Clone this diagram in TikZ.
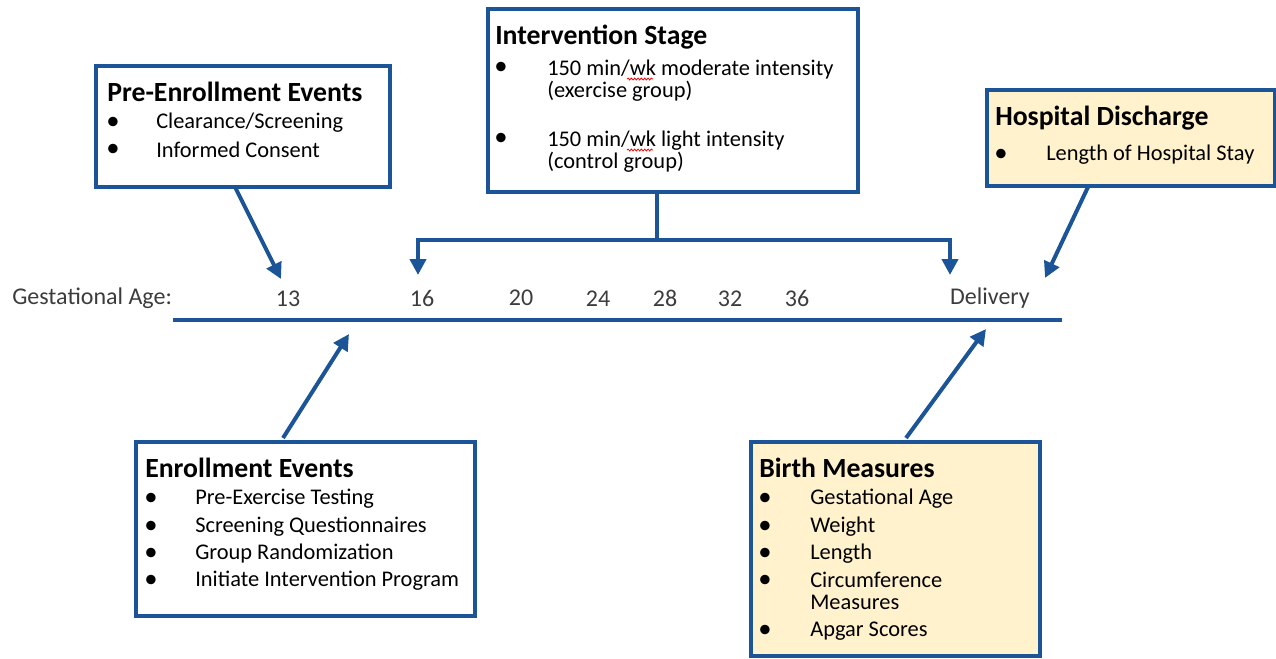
\documentclass[tikz,border=0pt]{standalone}
\usepackage{fontspec}
\setmainfont{Carlito}
\usetikzlibrary{arrows.meta,decorations.pathmorphing}
\definecolor{bblue}{RGB}{28,84,152}
\definecolor{byel}{RGB}{255,242,204}
\definecolor{tgrey}{RGB}{60,60,60}
\begin{document}
\begin{tikzpicture}[x=0.75pt,y=-0.75pt,
 box/.style={draw=bblue, line width=3pt, inner sep=0pt, anchor=north west},
 ybox/.style={box, fill=byel},
 ttl/.style={anchor=west, inner sep=0pt, font=\bfseries\fontsize{20.8}{24}\selectfont},
 itm/.style={anchor=west, inner sep=0pt, align=left, font=\fontsize{16.8}{16.5}\selectfont},
 bul/.style={anchor=center, inner sep=0pt, font=\fontsize{20}{20}\selectfont},
 tl/.style={inner sep=0pt, text=tgrey, font=\fontsize{18}{18}\selectfont},
 arr/.style={draw=bblue, line width=3pt, -{Triangle[length=12pt,width=12pt]}},
 con/.style={draw=bblue, line width=3pt},
 squig/.style={draw=red, line width=0.6pt, decorate, decoration={snake, amplitude=0.7pt, segment length=2.5pt}}
]
\useasboundingbox (0,0) rectangle (1276,658);

% boxes
\node[box, minimum width=220.5pt, minimum height=90.75pt] (pre) at (94,64) {};
\node[box, minimum width=277.5pt, minimum height=137.25pt] (inter) at (486,7) {};
\node[ybox, minimum width=216pt, minimum height=72pt] (hosp) at (985,88) {};
\node[box, minimum width=254.25pt, minimum height=130.5pt] (enr) at (134,440) {};
\node[ybox, minimum width=216.75pt, minimum height=160.5pt] (birth) at (749,440) {};

% Pre-Enrollment
\node[ttl] (preT) at (107,92) {Pre-Enrollment Events};
\node[bul] (preB1) at (113,123) {•};
\node[itm] (preI1) at (156,123) {Clearance/Screening};
\node[bul] (preB2) at (113,150) {•};
\node[itm] (preI2) at (156,150) {Informed Consent};

% Intervention
\node[ttl] (intT) at (495,37) {Intervention Stage};
\node[bul] (intB1) at (501,68) {•};
\node[itm, anchor=north west] (intI1) at (547,59.5) {150 min/wk moderate intensity\\(exercise group)};
\node[bul] (intB2) at (501,139) {•};
\node[itm, anchor=north west] (intI2) at (547,130.5) {150 min/wk light intensity\\(control group)};
\coordinate (sq1a) at (627,79);
\coordinate (sq1b) at (653,79);
\coordinate (sq2a) at (627,150);
\coordinate (sq2b) at (653,150);
\draw[squig] (sq1a) -- (sq1b);
\draw[squig] (sq2a) -- (sq2b);

% Hospital
\node[ttl] (hosT) at (995,118) {Hospital Discharge};
\node[bul] (hosB1) at (1001,155) {•};
\node[itm] (hosI1) at (1046,155) {Length of Hospital Stay};

% Enrollment
\node[ttl] (enrT) at (145,468) {Enrollment Events};
\node[bul] (enrB1) at (151,499) {•};
\node[itm] (enrI1) at (195,499) {Pre-Exercise Testing};
\node[bul] (enrB2) at (151,527) {•};
\node[itm] (enrI2) at (195,527) {Screening Questionnaires};
\node[bul] (enrB3) at (151,554) {•};
\node[itm] (enrI3) at (195,554) {Group Randomization};
\node[bul] (enrB4) at (151,581) {•};
\node[itm] (enrI4) at (195,581) {Initiate Intervention Program};

% Birth
\node[ttl] (birT) at (759,468) {Birth Measures};
\node[bul] (birB1) at (765,499) {•};
\node[itm] (birI1) at (810,499) {Gestational Age};
\node[bul] (birB2) at (765,527) {•};
\node[itm] (birI2) at (810,527) {Weight};
\node[bul] (birB3) at (765,554) {•};
\node[itm] (birI3) at (810,554) {Length};
\node[bul] (birB4) at (765,581) {•};
\node[itm, anchor=north west] (birI4) at (810,572) {Circumference\\Measures};
\node[bul] (birB5) at (765,631) {•};
\node[itm] (birI5) at (810,631) {Apgar Scores};

% timeline
\node[tl, anchor=west] (ga) at (12,298) {Gestational Age:};
\node[tl] (w13) at (288,299) {13};
\node[tl] (w16) at (422,298) {16};
\node[tl] (w20) at (521,298) {20};
\node[tl] (w24) at (598,299) {24};
\node[tl] (w28) at (665,298) {28};
\node[tl] (w32) at (730,299) {32};
\node[tl] (w36) at (797,298) {36};
\node[tl] (del) at (990,298) {Delivery};
\coordinate (tlL) at (173,320);
\coordinate (tlR) at (1062,320);
\draw[draw=bblue, line width=3pt] (tlL) -- (tlR);

% arrows
\coordinate (a13) at (281,279);
\coordinate (a16) at (418,275);
\coordinate (adel) at (950,275);
\coordinate (ahos) at (1045,278);
\coordinate (aenr) at (349,334);
\coordinate (abir) at (986,329);
\coordinate (jn) at (657,240);
\draw[arr] (235,187) -- (a13);
\draw[con] (inter.south -| jn) -- (jn);
\draw[arr] (jn) -| (a16);
\draw[arr] (jn) -| (adel);
\draw[arr] (1088,187) -- (ahos);
\draw[arr] (283,438) -- (aenr);
\draw[arr] (906,438) -- (abir);
\end{tikzpicture}
\end{document}
